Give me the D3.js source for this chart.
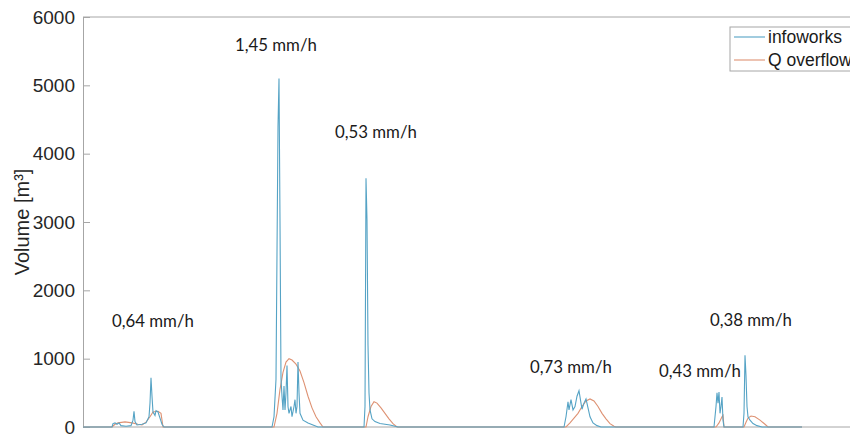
<!DOCTYPE html>
<html>
<head>
<meta charset="utf-8">
<script src="https://cdn.jsdelivr.net/npm/d3@7"></script>
<style>
  body { margin: 0; background: #fff; }
  svg { display: block; }
</style>
</head>
<body>
<div id="chart"></div>
<script>
// time step, volume [m³]
const infoworks = [
  [0, 0], [29, 0], [30, 50], [32, 60], [34, 40], [36, 60], [38, 20], [43, 10], [48, 20],
  [50, 100], [51, 230], [52, 80], [54, 30], [59, 40], [63, 60], [66, 150], [67, 350],
  [68, 720], [69, 450], [70, 220], [72, 170], [73, 240], [75, 220], [77, 130], [79, 40], [81, 0],
  [189, 0], [191, 150], [193, 700], [195, 4400], [196, 5100], [197, 3000], [198, 700],
  [199, 450], [200, 250], [201, 600], [202, 250], [203, 500], [204, 900], [205, 300],
  [206, 200], [208, 300], [209, 150], [211, 300], [212, 400], [213, 200], [214, 300],
  [215, 950], [216, 500], [217, 200], [220, 100], [225, 60], [230, 30], [235, 0],
  [281, 0], [282, 300], [283, 3640], [284, 3030], [285, 1200], [286, 500], [287, 250],
  [289, 120], [292, 80], [297, 50], [302, 40], [307, 30], [312, 10], [315, 0],
  [481, 0], [483, 150], [485, 370], [486, 250], [488, 400], [490, 250], [492, 300],
  [494, 450], [496, 530], [498, 350], [499, 260], [501, 350], [503, 410], [505, 280],
  [507, 150], [510, 60], [514, 20], [518, 0],
  [631, 0], [633, 300], [634, 500], [635, 350], [636, 510], [637, 200], [638, 300],
  [639, 440], [640, 100], [641, 0],
  [660, 0], [661, 200], [662, 1050], [663, 750], [664, 300], [665, 150], [667, 100],
  [670, 50], [674, 20], [679, 0], [719, 0]
];

const overflow = [
  [0, 0], [29, 0], [32, 40], [35, 60], [42, 75], [49, 60], [55, 40], [59, 30], [63, 70],
  [67, 150], [70, 220], [75, 230], [78, 200], [79, 100], [80, 0],
  [191, 0], [194, 200], [197, 550], [200, 800], [203, 950], [206, 1000], [209, 980],
  [213, 920], [217, 820], [221, 650], [225, 450], [229, 280], [233, 150], [237, 60], [240, 0],
  [283, 0], [285, 150], [288, 300], [291, 370], [294, 350], [298, 280], [302, 200],
  [306, 120], [310, 50], [314, 0],
  [483, 0], [487, 60], [491, 130], [495, 200], [499, 300], [503, 380], [507, 410],
  [511, 380], [515, 300], [519, 200], [523, 120], [527, 50], [531, 10], [533, 0],
  [633, 0], [636, 60], [639, 150], [640, 170], [641, 0],
  [661, 0], [663, 70], [665, 130], [668, 160], [672, 150], [677, 100], [682, 40], [685, 0],
  [719, 0]
];

const yTicks = [0, 1000, 2000, 3000, 4000, 5000, 6000];

const rainLabels = ["0,64 mm/h", "1,45 mm/h", "0,53 mm/h", "0,73 mm/h", "0,43 mm/h", "0,38 mm/h"];
const rainLabelT = [29, 152, 252, 447, 576, 627];
const rainLabelV = [1470, 5500, 4230, 790, 730, 1480];

const seriesNames = ["infoworks", "Q overflow"];
const seriesColors = ["#55a3c5", "#de9273"];

const width = 850, height = 434;
const margin = { top: 17, right: -5, bottom: 7, left: 83 };

const svg = d3.select("#chart").append("svg")
    .attr("width", width)
    .attr("height", height)
    .style("font-family", "'Liberation Sans', Arial, sans-serif");

const x = d3.scaleLinear()
    .domain([0, 772])
    .range([margin.left, width - margin.right]);

const y = d3.scaleLinear()
    .domain([0, 6000])
    .range([height - margin.bottom, margin.top]);

// frame: top and bottom lines
svg.append("line")
    .attr("x1", margin.left).attr("x2", width)
    .attr("y1", y(6000)).attr("y2", y(6000))
    .attr("stroke", "#a6a6a6");
svg.append("line")
    .attr("x1", margin.left).attr("x2", width)
    .attr("y1", y(0)).attr("y2", y(0))
    .attr("stroke", "#a6a6a6");

// y axis
const yAxis = svg.append("g")
    .attr("transform", `translate(${margin.left},0)`)
    .call(d3.axisLeft(y).tickValues(yTicks).tickSize(-7).tickPadding(8).tickFormat(d3.format("d")));
yAxis.select(".domain").attr("stroke", "#a6a6a6");
yAxis.selectAll(".tick line").attr("stroke", "#a6a6a6");
yAxis.selectAll(".tick text")
    .attr("fill", "#262626")
    .style("font-size", "19px")
    .style("font-family", "'Liberation Sans', Arial, sans-serif");

svg.append("text")
    .attr("transform", `translate(29, ${(y(0) + y(6000)) / 2}) rotate(-90)`)
    .attr("text-anchor", "middle")
    .attr("fill", "#262626")
    .style("font-size", "20px")
    .text("Volume [m³]");

// series
const line = d3.line()
    .x(d => x(d[0]))
    .y(d => y(d[1]));

svg.append("path")
    .datum(overflow)
    .attr("fill", "none")
    .attr("stroke", seriesColors[1])
    .attr("stroke-width", 1.1)
    .attr("d", line);

svg.append("path")
    .datum(infoworks)
    .attr("fill", "none")
    .attr("stroke", seriesColors[0])
    .attr("stroke-width", 1.1)
    .attr("d", line);

// rain intensity annotations
svg.append("g")
    .selectAll("text")
    .data(rainLabels)
    .join("text")
    .attr("x", (d, i) => x(rainLabelT[i]))
    .attr("y", (d, i) => y(rainLabelV[i]))
    .attr("fill", "#1a1a1a")
    .style("font-family", "Lato, 'Open Sans', sans-serif")
    .style("font-size", "16.8px")
    .text(d => d);

// legend
const legend = svg.append("g").attr("transform", "translate(730, 27)");
legend.append("rect")
    .attr("width", 130).attr("height", 44)
    .attr("fill", "#fff")
    .attr("stroke", "#a6a6a6");

seriesNames.forEach((name, i) => {
    const row = legend.append("g").attr("transform", `translate(0, ${10 + i * 23})`);
    row.append("line")
        .attr("x1", 4).attr("x2", 35)
        .attr("stroke", seriesColors[i])
        .attr("stroke-width", 1.1);
    row.append("text")
        .attr("x", 38)
        .attr("y", 6)
        .attr("fill", "#1a1a1a")
        .style("font-size", "17.5px")
        .text(name);
});
</script>
</body>
</html>
